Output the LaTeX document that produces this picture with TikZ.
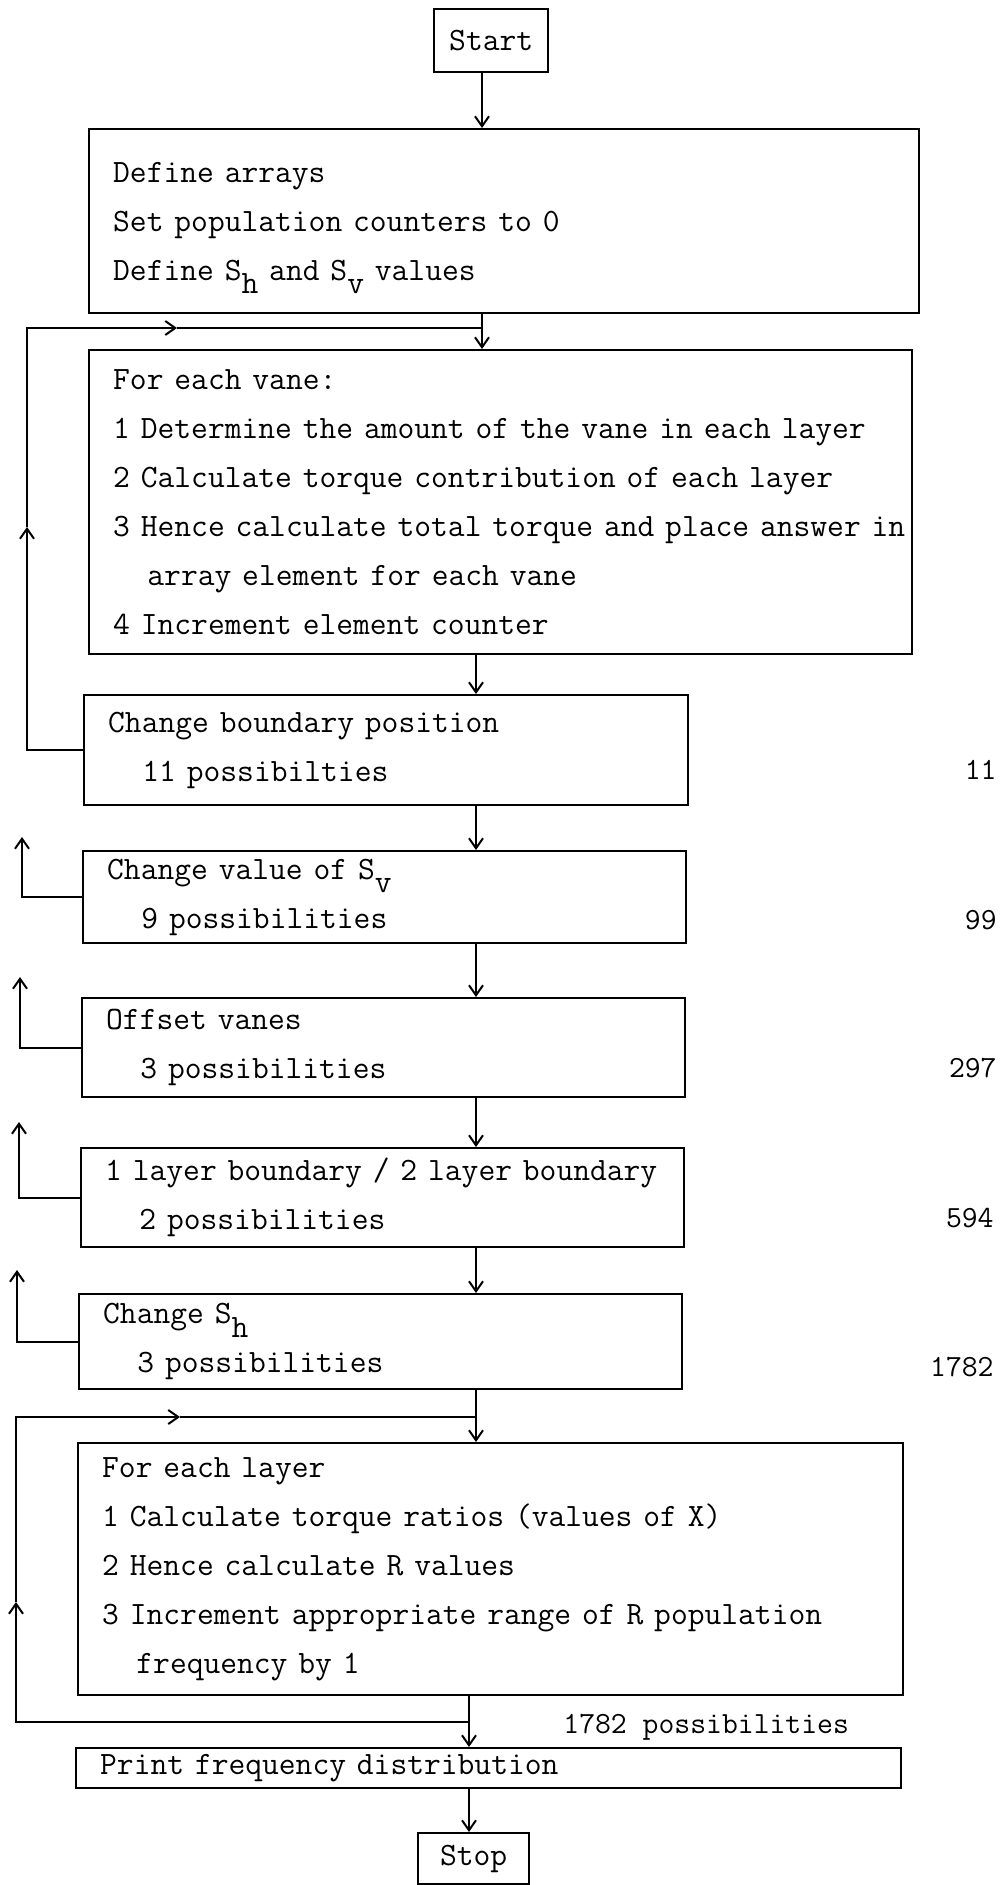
\documentclass[tikz,border=0pt]{standalone}
\usepackage{fontspec}
\usepackage{tikz}
\usetikzlibrary{arrows.meta,positioning,calc}
\newcommand{\lowsub}[1]{\raisebox{-0.42em}[0pt][0pt]{#1}}
\newcommand{\ind}{\hspace*{1.05em}}
\tikzset{
  arr/.style={-{Straight Barb[length=5pt,width=7pt]},line width=1pt},
  wire/.style={line width=1pt},
  stepbox/.style={draw,line width=1.2pt,anchor=north west,align=left,inner xsep=12pt,inner ysep=2pt,font=\fontsize{16.3}{24.5}\selectfont\ttfamily},
  termbox/.style={draw,line width=1.2pt,anchor=north west,inner sep=0pt,font=\fontsize{16.3}{24.5}\selectfont\ttfamily},
  countlabel/.style={inner sep=0pt,font=\fontsize{15.4}{18}\selectfont\ttfamily}
}

\begin{document}
\begin{tikzpicture}[x=0.5pt,y=-0.5pt]
  \fill[white] (0,0) rectangle (1003,1885);
  \useasboundingbox (0,0) rectangle (1003,1885);
  % trunk columns (the hand drawn trunk drifts a little to the left)
  \coordinate (tkA) at (482,0);
  \coordinate (tkB) at (476,0);
  \coordinate (tkC) at (469,0);

  \node[termbox,minimum width=57pt,minimum height=31.5pt] (start) at (433,8) {Start};
  \node[stepbox,text width=391pt,minimum height=92pt] (define) at (88,128) {Define arrays\\Set population counters to 0\\Define S\lowsub{h} and S\lowsub{v} values};
  \node[stepbox,text width=387.5pt,minimum height=152pt] (vane) at (88,349) {For each vane:\\1 Determine the amount of the vane in each layer\\2 Calculate torque contribution of each layer\\\mbox{3 Hence calculate total torque and place answer in}\\\ind array element for each vane\\4 Increment element counter};
  \node[stepbox,text width=278pt,minimum height=55pt] (bound) at (83,694) {Change boundary position\\\ind 11 possibilties};
  \node[stepbox,text width=277.5pt,minimum height=46pt] (value) at (82,850) {Change value of S\lowsub{v}\\\ind 9 possibilities};
  \node[stepbox,text width=277.5pt,minimum height=49.5pt] (offset) at (81,997) {Offset vanes\\\ind 3 possibilities};
  \node[stepbox,text width=277.5pt,minimum height=49.5pt] (layer) at (80,1147) {\mbox{1 layer boundary / 2 layer boundary}\\\ind 2 possibilities};
  \node[stepbox,text width=277.5pt,minimum height=47.5pt] (shbox) at (78,1293) {Change S\lowsub{h}\\\ind 3 possibilities};
  \node[stepbox,text width=388.5pt,minimum height=126pt] (loop) at (77,1442) {For each layer\\1 Calculate torque ratios (values of X)\\2 Hence calculate R values\\3 Increment appropriate range of R population\\\ind frequency by 1};
  \node[stepbox,text width=388.5pt,minimum height=20pt] (print) at (75,1747) {Print frequency distribution};
  \node[termbox,minimum width=55.5pt,minimum height=25.5pt] (stop) at (417,1832) {Stop};

  % running totals
  \node[countlabel,anchor=east] (c11) at (997,770) {11};
  \node[countlabel,anchor=east] (c99) at (997,920) {99};
  \node[countlabel,anchor=east] (c297) at (997,1068) {297};
  \node[countlabel,anchor=east] (c594) at (994,1218) {594};
  \node[countlabel,anchor=east] (c1782) at (994,1367) {1782};
  \node[countlabel,anchor=west] (cfinal) at (563,1727) {1782 possibilities};

  % main flow
  \draw[arr] (start.south -| tkA) -- (define.north -| tkA);
  \draw[arr] (define.south -| tkA) -- (vane.north -| tkA);
  \draw[arr] (vane.south -| tkB) -- (bound.north -| tkB);
  \draw[arr] (bound.south -| tkB) -- (value.north -| tkB);
  \draw[arr] (value.south -| tkB) -- (offset.north -| tkB);
  \draw[arr] (offset.south -| tkB) -- (layer.north -| tkB);
  \draw[arr] (layer.south -| tkB) -- (shbox.north -| tkB);
  \draw[arr] (shbox.south -| tkB) -- (loop.north -| tkB);
  \draw[arr] (loop.south -| tkC) -- (print.north -| tkC);
  \draw[arr] (print.south -| tkC) -- (stop.north -| tkC);

  % vane loop
  \coordinate (upA) at (27,527);
  \coordinate (rtA) at (177,328);
  \draw[arr] (bound.west) -| (upA);
  \draw[arr] (upA) |- (rtA);
  \draw[wire] (rtA) -- (rtA -| tkA);

  % outer loops, only stubs
  \coordinate (tipV) at (22,837);
  \coordinate (tipO) at (20,977);
  \coordinate (tipL) at (19,1122);
  \coordinate (tipS) at (17,1270);
  \draw[arr] (value.west) -| (tipV);
  \draw[arr] (offset.west) -| (tipO);
  \draw[arr] (layer.west) -| (tipL);
  \draw[arr] (shbox.west) -| (tipS);

  % layer loop
  \coordinate (retB) at (469,1722);
  \coordinate (upB) at (16,1602);
  \coordinate (rtB) at (180,1417);
  \draw[arr] (retB) -| (upB);
  \draw[arr] (upB) |- (rtB);
  \draw[wire] (rtB) -- (rtB -| tkB);
\end{tikzpicture}
\end{document}
